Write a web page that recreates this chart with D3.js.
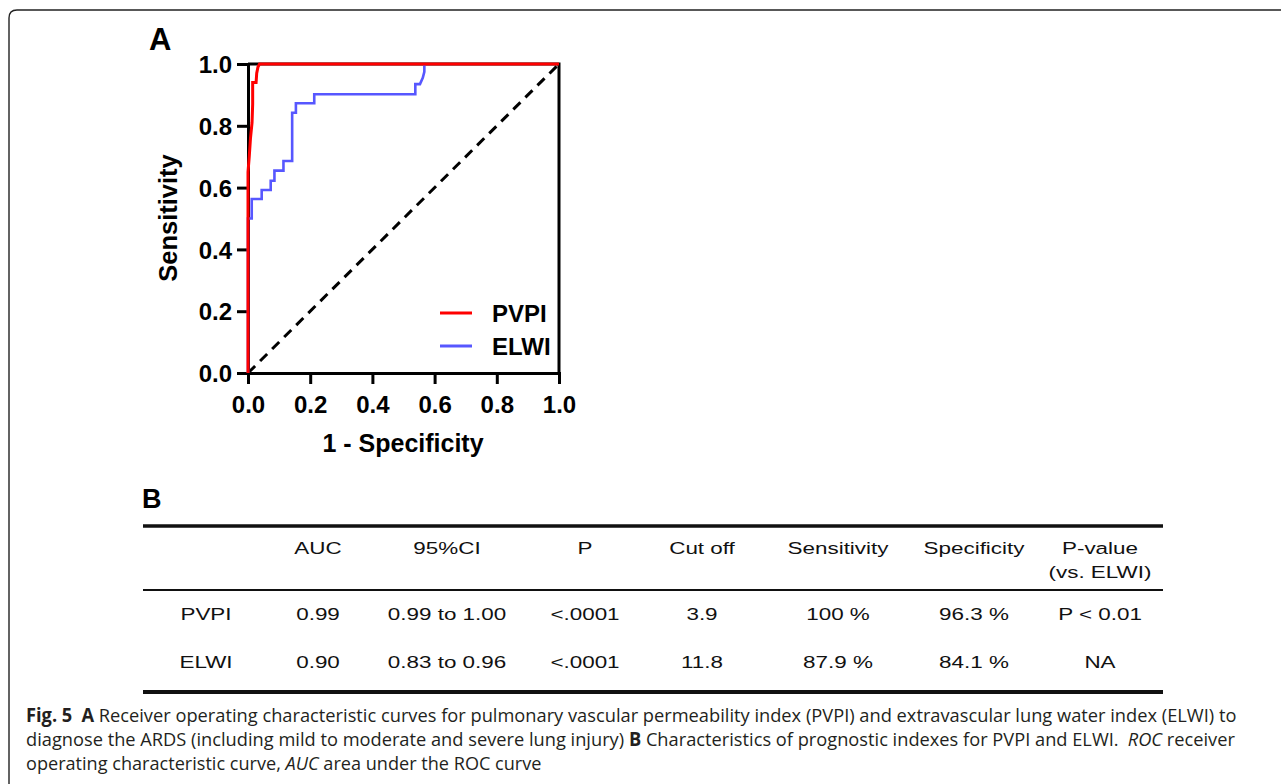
<!DOCTYPE html>
<html>
<head>
<meta charset="utf-8">
<script src="https://cdn.jsdelivr.net/npm/d3@7"></script>
<style>
  html, body { margin: 0; padding: 0; background: #fff; }
  svg { display: block; }
</style>
</head>
<body>
<svg id="fig" width="1281" height="784"></svg>
<script>
// ROC points: [1 - specificity, sensitivity]
const pvpiRoc = [[0, 0], [0, 0.65], [0.004, 0.70], [0.008, 0.76], [0.013, 0.81], [0.015, 0.87], [0.015, 0.94],
  [0.026, 0.94], [0.028, 0.97], [0.032, 0.99], [0.037, 1.0], [1, 1]]
const elwiRoc = [[0, 0], [0, 0.5], [0.012, 0.5], [0.012, 0.563], [0.044, 0.563], [0.044, 0.592], [0.073, 0.592],
  [0.073, 0.622], [0.085, 0.622], [0.085, 0.655], [0.114, 0.655], [0.114, 0.686], [0.142, 0.686], [0.142, 0.842],
  [0.154, 0.842], [0.154, 0.873], [0.213, 0.873], [0.213, 0.902], [0.538, 0.902], [0.538, 0.935], [0.553, 0.935],
  [0.562, 0.955], [0.567, 0.975], [0.567, 1.0]]
const refLine = [[0, 0], [1, 1]]
const axisTicks = [0, 0.2, 0.4, 0.6, 0.8, 1.0]
const seriesNames = ['PVPI', 'ELWI']
const seriesColors = ['#ff0000', '#5757ff']

// table B
const tableHeader = ['', 'AUC', '95%CI', 'P', 'Cut off', 'Sensitivity', 'Specificity', 'P-value']
const tableHeader2 = ['', '', '', '', '', '', '', '(vs. ELWI)']
const pvpiRow = ['PVPI', '0.99', '0.99 to 1.00', '<.0001', '3.9', '100 %', '96.3 %', 'P < 0.01']
const elwiRow = ['ELWI', '0.90', '0.83 to 0.96', '<.0001', '11.8', '87.9 %', '84.1 %', 'NA']

const svg = d3.select('#fig')

// frame with rounded top-left corner
svg.append('path')
  .attr('d', 'M9,784 V18 Q9,10 17,10 H1281')
  .attr('fill', 'none').attr('stroke', '#222').attr('stroke-width', 1.4)

// ---------- panel A ----------
const x = d3.scaleLinear().domain([0, 1]).range([248, 559])
const y = d3.scaleLinear().domain([0, 1]).range([373, 64])
const boldFont = 'Liberation Sans, Arial, sans-serif'

svg.append('text').attr('x', 149).attr('y', 50)
  .attr('font-family', boldFont).attr('font-weight', 'bold').attr('font-size', 31).text('A')

// box top + right
svg.append('path')
  .attr('d', `M${x(0)},${y(1)} H${x(1)} V${y(0)}`)
  .attr('fill', 'none').attr('stroke', '#000').attr('stroke-width', 3)

const fmt = d3.format('.1f')
const gx = svg.append('g').attr('transform', `translate(0,${y(0)})`)
  .call(d3.axisBottom(x).tickValues(axisTicks).tickFormat(fmt).tickSize(11).tickPadding(12))
const gy = svg.append('g').attr('transform', `translate(${x(0)},0)`)
  .call(d3.axisLeft(y).tickValues(axisTicks).tickFormat(fmt).tickSize(11).tickPadding(5))
;[gx, gy].forEach(g => {
  g.select('.domain').attr('stroke', '#000').attr('stroke-width', 3)
  g.selectAll('.tick line').attr('stroke', '#000').attr('stroke-width', 3)
  g.selectAll('.tick text').attr('fill', '#000').attr('font-family', boldFont)
    .attr('font-weight', 'bold').attr('font-size', 24)
})
gy.selectAll('.tick text').attr('dy', '0.36em')

// axis titles
svg.append('text').attr('x', 403).attr('y', 452).attr('text-anchor', 'middle')
  .attr('font-family', boldFont).attr('font-weight', 'bold').attr('font-size', 25).text('1 - Specificity')
svg.append('text').attr('transform', 'translate(177,218) rotate(-90)').attr('text-anchor', 'middle')
  .attr('font-family', boldFont).attr('font-weight', 'bold').attr('font-size', 25.5).text('Sensitivity')

const line = d3.line().x(d => x(d[0])).y(d => y(d[1]))

svg.append('path').datum(refLine).attr('d', line)
  .attr('fill', 'none').attr('stroke', '#000').attr('stroke-width', 3).attr('stroke-dasharray', '10,7')

svg.append('path').datum(elwiRoc).attr('d', line)
  .attr('fill', 'none').attr('stroke', seriesColors[1]).attr('stroke-width', 2.6)
svg.append('path').datum(pvpiRoc).attr('d', line)
  .attr('fill', 'none').attr('stroke', seriesColors[0]).attr('stroke-width', 3)

// legend
const legend = svg.append('g').selectAll('g').data(seriesNames).join('g')
  .attr('transform', (d, i) => `translate(440,${313 + i * 33})`)
legend.append('line').attr('x1', 0).attr('x2', 32)
  .attr('stroke', (d, i) => seriesColors[i]).attr('stroke-width', 3)
legend.append('text').attr('x', 52).attr('y', 9)
  .attr('font-family', boldFont).attr('font-weight', 'bold').attr('font-size', 24).text(d => d)

// ---------- panel B ----------
svg.append('text').attr('x', 142).attr('y', 508)
  .attr('font-family', boldFont).attr('font-weight', 'bold').attr('font-size', 27).text('B')

const colX = [206, 318, 447, 585, 702, 838, 974, 1100]
const rules = [[526, 3.5], [590, 2.2], [692, 4]]
svg.append('g').selectAll('line').data(rules).join('line')
  .attr('x1', 143).attr('x2', 1163).attr('y1', d => d[0]).attr('y2', d => d[0])
  .attr('stroke', '#111').attr('stroke-width', d => d[1])

function tableRow(cells, baseY) {
  svg.append('g').selectAll('text').data(cells).join('text')
    .attr('transform', (d, i) => `translate(${colX[i]},${baseY}) scale(1.32,1)`)
    .attr('text-anchor', 'middle')
    .attr('font-family', 'Liberation Sans, Arial, sans-serif').attr('font-size', 17)
    .attr('fill', '#111').text(d => d)
}
tableRow(tableHeader, 554)
tableRow(tableHeader2, 578)
tableRow(pvpiRow, 620)
tableRow(elwiRow, 668)

// ---------- caption ----------
const capLines = [
  { w: 1211, parts: [['Fig. 5', 'b'], ['\u2002', ''], ['A', 'b'], [' Receiver operating characteristic curves for pulmonary vascular permeability index (PVPI) and extravascular lung water index (ELWI) to', '']] },
  { w: 1209, parts: [['diagnose the ARDS (including mild to moderate and severe lung injury) ', ''], ['B', 'b'], [' Characteristics of prognostic indexes for PVPI and ELWI.\u2002', ''], ['ROC', 'i'], [' receiver', '']] },
  { w: 516, parts: [['operating characteristic curve, ', ''], ['AUC', 'i'], [' area under the ROC curve', '']] }
]
capLines.forEach((ln, i) => {
  const t = svg.append('text')
    .attr('font-family', 'Open Sans, Noto Sans, sans-serif').attr('font-size', 19)
    .attr('fill', '#231f20')
  ln.parts.forEach(p => {
    t.append('tspan')
      .attr('font-weight', p[1] === 'b' ? 'bold' : null)
      .attr('font-style', p[1] === 'i' ? 'italic' : null)
      .text(p[0])
  })
  // squeeze the line to the measured width of the reference
  const natural = t.node().getComputedTextLength()
  t.attr('transform', `translate(26,${722 + i * 24}) scale(${ln.w / natural},1)`)
})
</script>
</body>
</html>
